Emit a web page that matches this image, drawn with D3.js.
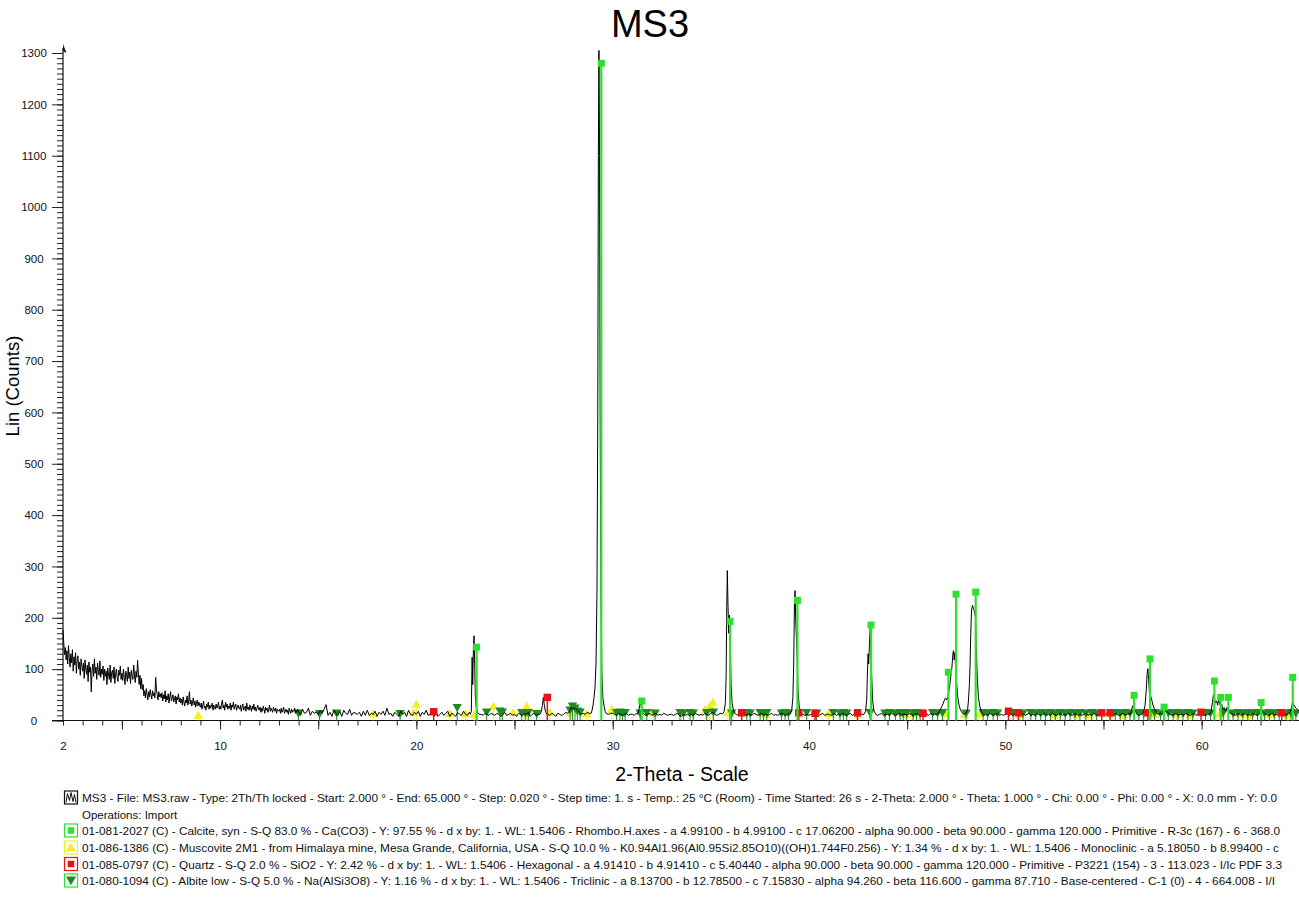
<!DOCTYPE html>
<html><head><meta charset="utf-8">
<script src="https://cdn.jsdelivr.net/npm/d3@7"></script>
<style>body{margin:0;background:#fff;} svg{display:block;font-family:"Liberation Sans",Arial,sans-serif;}</style>
</head><body>
<svg id="c" width="1299" height="919"></svg>
<script>
// ---- Scan (2-Theta, counts) ----
// low-angle part: 2.00 .. 13.96 every 0.04
const lowStart = 2.0, lowStep = 0.04;
const lowAngle = [
176,150,128,142,118,136,110,146,122,104,130,112,138,96,124,108,132,92,118,126,100,114,88,120,106,
96,112,82,118,100,90,108,76,114,94,104,56,98,110,86,120,92,104,80,112,96,88,116,84,100,
90,106,78,100,86,96,70,102,88,80,108,74,94,98,82,104,72,92,100,84,76,98,88,106,80,
92,78,100,84,70,96,88,76,104,82,94,72,98,86,80,108,90,74,96,84,117,92,70,88,62,
82,60,70,48,58,44,62,52,40,56,46,60,50,42,58,48,54,44,84,60,50,40,56,46,52,
44,54,38,50,42,58,36,48,40,52,34,46,56,38,44,50,36,42,48,32,46,40,52,36,44,
34,42,30,46,36,28,40,34,48,30,38,56,32,40,28,36,44,30,38,26,34,40,28,36,30,
26,34,22,30,38,24,28,20,32,26,36,22,30,24,28,34,20,30,26,22,32,24,28,36,22,
28,22,34,40,24,30,20,36,26,32,22,28,24,34,20,30,26,36,22,28,32,20,26,30,24,
22,30,18,26,32,20,24,28,18,34,22,26,20,30,24,18,28,22,32,20,26,18,24,30,22,
20,26,16,24,18,28,22,14,26,20,24,16,22,30,18,24,20,16,26,22,18,24,14,22,20,
18,22,14,24,16,20,26,14,18,22,16,20,12,24,18,14,22,16,20,18,24,14,20,16,22
];
// main part: 14.0 .. 65.0 every 0.1
const mainStart = 14.0, mainStep = 0.1;
const background = [
18,10,22,14,16,24,10,18,14,16,
12,20,14,22,31,10,16,8,20,14,
10,18,8,20,14,12,22,10,16,14,
12,16,8,18,10,20,10,14,12,18,
8,16,12,18,10,24,12,14,8,16,
12,8,18,12,16,8,20,12,10,16,
12,18,8,16,12,20,10,12,16,8,
18,8,12,16,10,14,18,8,14,12,
8,16,12,10,18,12,10,16,12,14,
14,12,16,12,10,14,12,10,14,12,
10,14,12,8,12,16,10,12,14,10,
12,8,14,12,10,14,12,16,8,12,
14,10,12,16,12,14,12,12,10,14,
12,8,14,12,10,12,16,14,18,26,
22,24,20,16,12,14,12,16,14,12,
14,12,14,12,12,12,12,13,12,14,
14,12,10,14,12,10,12,14,10,12,
12,10,14,14,14,14,12,10,12,14,
10,12,14,10,12,10,14,12,10,12,
12,10,12,14,10,8,12,10,12,10,
12,10,14,12,10,12,10,14,12,10,
14,16,12,10,12,14,12,12,12,12,
12,12,14,12,10,12,14,12,10,12,
12,10,14,12,10,12,14,10,12,10,
12,14,10,12,10,12,14,12,10,12,
14,12,12,12,12,12,12,12,10,12,
10,12,14,10,12,10,12,14,10,12,
12,10,12,14,10,12,10,14,12,10,
12,14,10,12,10,12,14,12,12,12,
12,12,12,12,12,10,12,14,10,12,
12,10,14,12,10,12,14,10,12,12,
10,14,12,10,12,14,10,12,14,12,
12,10,14,12,12,12,12,12,12,12,
12,12,12,12,12,12,12,12,12,12,
12,12,12,12,12,12,12,12,14,10,
12,10,14,12,10,12,14,10,12,10,
12,14,10,12,10,14,12,10,12,14,
10,12,14,10,12,10,14,12,10,12,
14,10,12,10,14,12,10,12,14,10,
12,10,14,12,10,12,14,10,12,10,
12,14,10,12,10,14,12,10,12,14,
10,12,14,10,12,10,14,12,10,12,
14,10,12,14,12,12,12,12,10,12,
12,12,12,12,12,12,12,12,12,14,
12,16,20,14,12,10,12,14,10,12,
12,10,14,12,10,12,14,10,12,10,
12,14,10,12,12,12,12,12,12,12,
12,12,12,12,12,14,12,10,12,14,
10,12,14,10,12,10,14,12,10,12,
16,18,14,12,10,12,14,10,12,10,
12,14,10,12,12,12,12,12,12,12,
17
];
// Finer points read around the diffraction peaks [2-Theta, counts]
const peakProfiles = [
 [[22.75,12],[22.80,18],[22.84,123],[22.87,70],[22.91,150],[22.94,165],[22.97,110],[23.00,50],[23.05,25],[23.12,16],[23.20,12]],
 [[26.30,12],[26.37,18],[26.42,30],[26.47,45],[26.51,32],[26.57,18],[26.65,12]],
 [[28.90,14],[28.95,20],[29.00,30],[29.05,45],[29.10,65],[29.15,110],[29.20,250],[29.24,600],[29.27,1100],[29.30,1305],[29.33,1100],[29.36,600],[29.40,250],[29.45,90],[29.50,45],[29.56,28],[29.62,18],[29.68,13]],
 [[31.25,12],[31.32,18],[31.38,30],[31.42,35],[31.46,26],[31.52,16],[31.60,12]],
 [[35.60,13],[35.68,18],[35.74,35],[35.78,90],[35.81,220],[35.84,292],[35.87,230],[35.91,170],[35.95,205],[35.99,150],[36.03,70],[36.08,35],[36.15,20],[36.25,13]],
 [[39.05,13],[39.12,20],[39.18,45],[39.22,110],[39.26,230],[39.29,253],[39.32,200],[39.36,160],[39.40,120],[39.44,60],[39.50,28],[39.58,16],[39.66,12]],
 [[42.80,12],[42.88,18],[42.94,40],[42.98,100],[43.01,130],[43.04,110],[43.08,150],[43.12,185],[43.15,170],[43.19,90],[43.24,40],[43.30,20],[43.40,12]],
 [[46.60,14],[46.70,22],[46.80,30],[46.88,38],[46.95,44],[47.02,40],[47.08,48],[47.15,62],[47.22,85],[47.28,104],[47.33,130],[47.36,136],[47.40,118],[47.43,132],[47.47,100],[47.52,72],[47.58,45],[47.64,30],[47.72,20],[47.80,15]],
 [[48.00,14],[48.08,22],[48.12,38],[48.17,70],[48.20,104],[48.24,170],[48.28,215],[48.33,224],[48.38,218],[48.43,212],[48.48,200],[48.52,140],[48.57,84],[48.63,45],[48.71,26],[48.80,15]],
 [[56.35,12],[56.42,18],[56.48,28],[56.52,30],[56.58,24],[56.66,15]],
 [[56.95,12],[57.05,18],[57.12,30],[57.18,60],[57.22,90],[57.26,101],[57.30,80],[57.34,55],[57.40,48],[57.46,40],[57.52,30],[57.60,22],[57.70,15]],
 [[60.40,12],[60.48,18],[60.55,35],[60.60,50],[60.64,45],[60.70,34],[60.76,38],[60.82,30],[60.86,42],[60.90,36],[60.96,28],[61.02,32],[61.08,22],[61.15,25],[61.22,18],[61.30,26],[61.36,20],[61.45,14]],
 [[64.45,14],[64.52,18],[64.58,26],[64.63,36],[64.68,32],[64.74,28],[64.80,24],[64.86,22],[64.92,20],[65.00,17]]
];
// ---- Stick patterns [2-Theta, intensity] ----
const calcite = [[23.07,143],[29.42,1280],[31.48,38],[35.98,193],[39.41,234],[43.16,186],[47.10,94],[47.49,246],[48.49,250],[56.56,49],[57.37,120],[58.09,26],[60.65,77],[60.97,45],[61.36,45],[63.03,35],[64.64,84]];
const muscovite = [[8.89,8],[17.80,12],[19.85,14],[20.00,30],[21.70,12],[22.50,12],[22.95,10],[23.92,26],[24.94,14],[25.62,26],[26.80,14],[27.83,14],[28.68,12],[29.95,20],[32.07,14],[34.72,20],[34.95,26],[35.10,34],[35.88,14],[37.80,10],[40.98,12],[42.50,10],[44.90,10],[45.30,12],[46.93,12],[47.90,10],[48.71,12],[50.75,10],[52.50,9],[53.64,10],[54.20,9],[55.33,12],[56.00,9],[57.60,10],[58.73,10],[59.40,9],[60.94,12],[61.96,12],[62.40,9],[63.49,10],[64.40,9]];
const quartz = [[20.88,17],[26.67,45],[36.57,15],[39.48,15],[40.31,14],[42.47,15],[45.81,14],[50.16,18],[50.67,15],[54.91,15],[55.34,15],[57.26,15],[59.97,16],[64.08,15]];
const albite = [[13.99,16],[15.07,15],[15.94,16],[19.17,15],[22.08,27],[23.58,18],[24.26,20],[24.38,18],[25.37,17],[25.55,16],[25.70,17],[26.13,15],[27.83,22],[27.95,30],[28.08,26],[28.20,20],[28.34,18],[30.20,17],[30.37,18],[30.50,16],[30.63,17],[31.40,16],[31.74,17],[32.16,16],[33.43,17],[33.60,16],[33.94,17],[34.10,16],[34.79,17],[35.13,18],[36.06,16],[36.83,17],[37.00,16],[37.51,17],[37.68,16],[37.85,17],[38.60,16],[38.78,17],[38.95,16],[39.88,17],[40.39,16],[41.24,17],[41.58,16],[41.75,17],[41.92,16],[43.11,17],[43.87,16],[44.10,17],[44.40,16],[44.64,17],[44.80,16],[44.98,17],[45.30,16],[45.48,17],[45.66,16],[46.30,17],[46.55,16],[46.80,17],[48.00,16],[48.87,17],[49.10,16],[49.38,17],[49.60,16],[50.40,17],[50.90,16],[51.30,17],[51.55,16],[51.80,17],[52.05,16],[52.30,17],[52.55,16],[52.80,17],[53.05,16],[53.30,17],[53.55,16],[53.80,17],[54.10,16],[54.40,17],[54.65,16],[55.60,17],[55.85,16],[56.10,17],[56.35,16],[56.80,17],[57.05,16],[57.60,17],[57.90,16],[58.30,17],[58.55,16],[58.80,17],[59.05,16],[59.30,17],[59.55,16],[60.20,17],[60.45,16],[61.10,17],[61.60,16],[61.85,17],[62.10,16],[62.35,17],[62.60,16],[62.85,17],[63.20,16],[63.45,17],[63.70,16],[63.95,17],[64.30,16],[64.55,17],[64.80,16]];
// ---- Axis ticks ----
const xTickLabels = [2,10,20,30,40,50,60];
const yTickLabels = [0,100,200,300,400,500,600,700,800,900,1000,1100,1200,1300];
// ---- Texts ----
const title = "MS3";
const xTitle = "2-Theta - Scale";
const yTitle = "Lin (Counts)";
const legendLines = [
 "MS3 - File: MS3.raw - Type: 2Th/Th locked - Start: 2.000 ° - End: 65.000 ° - Step: 0.020 ° - Step time: 1. s - Temp.: 25 °C (Room) - Time Started: 26 s - 2-Theta: 2.000 ° - Theta: 1.000 ° - Chi: 0.00 ° - Phi: 0.00 ° - X: 0.0 mm - Y: 0.0",
 "Operations: Import",
 "01-081-2027 (C) - Calcite, syn - S-Q 83.0 % - Ca(CO3) - Y: 97.55 % - d x by: 1. - WL: 1.5406 - Rhombo.H.axes - a 4.99100 - b 4.99100 - c 17.06200 - alpha 90.000 - beta 90.000 - gamma 120.000 - Primitive - R-3c (167) - 6 - 368.0",
 "01-086-1386 (C) - Muscovite 2M1 - from Himalaya mine, Mesa Grande, California, USA - S-Q 10.0 % - K0.94Al1.96(Al0.95Si2.85O10)((OH)1.744F0.256) - Y: 1.34 % - d x by: 1. - WL: 1.5406 - Monoclinic - a 5.18050 - b 8.99400 - c",
 "01-085-0797 (C) - Quartz - S-Q 2.0 % - SiO2 - Y: 2.42 % - d x by: 1. - WL: 1.5406 - Hexagonal - a 4.91410 - b 4.91410 - c 5.40440 - alpha 90.000 - beta 90.000 - gamma 120.000 - Primitive - P3221 (154) - 3 - 113.023 - I/Ic PDF 3.3",
 "01-080-1094 (C) - Albite low - S-Q 5.0 % - Na(AlSi3O8) - Y: 1.16 % - d x by: 1. - WL: 1.5406 - Triclinic - a 8.13700 - b 12.78500 - c 7.15830 - alpha 94.260 - beta 116.600 - gamma 87.710 - Base-centered - C-1 (0) - 4 - 664.008 - I/I"
];

// ================= drawing =================
const svg = d3.select("#c");
const C = {calcite:"#2fe02f", musc:"#f4ee22", quartz:"#e81212", albite:"#1f8a1f"};
const x = d3.scaleLinear().domain([2,65]).range([63,1299.8]);
const y = d3.scaleLinear().domain([0,1300]).range([720.5,53]);

// merge scan
const inPeak = t => peakProfiles.some(p=>t>=p[0][0] && t<=p[p.length-1][0]);
const pts = [];
lowAngle.forEach((c,i)=>{ const t = +(lowStart + i*lowStep).toFixed(2); if(!inPeak(t)) pts.push([t,c]); });
background.forEach((c,i)=>{ const t = +(mainStart + i*mainStep).toFixed(2); if(!inPeak(t)) pts.push([t,c]); });
peakProfiles.forEach(p=>p.forEach(q=>pts.push(q)));
pts.sort((a,b)=>a[0]-b[0]);

// titles
svg.append("text").attr("x",650).attr("y",37).attr("text-anchor","middle")
  .attr("font-size",38).text(title);
svg.append("text").attr("x",682).attr("y",781).attr("text-anchor","middle")
  .attr("font-size",19.5).text(xTitle);
svg.append("text").attr("transform","translate(18.5,386) rotate(-90)").attr("text-anchor","middle")
  .attr("font-size",18.5).text(yTitle);

// axes
const yMinor = d3.axisLeft(y).tickValues(d3.range(0,1301,10)).tickSize(6).tickFormat("");
const yMajor = d3.axisLeft(y).tickValues(yTickLabels).tickSize(11).tickPadding(0).tickFormat(d3.format("d"));
const gy1 = svg.append("g").attr("transform","translate(63,0)").call(yMinor);
const gy2 = svg.append("g").attr("transform","translate(63,0)").call(yMajor);
[gy1,gy2].forEach(g=>{g.select(".domain").remove(); g.selectAll("line").attr("stroke","#222");});
gy2.selectAll("text").attr("x",-29).attr("text-anchor","middle").attr("font-size",11.5)
  .attr("font-family","Liberation Sans, Arial, sans-serif").attr("fill","#111");

const xMinor = d3.axisBottom(x).tickValues(d3.range(2,66,1)).tickSize(5).tickFormat("");
const xMid = d3.axisBottom(x).tickValues(d3.range(5,66,5)).tickSize(9).tickFormat("");
const xMajor = d3.axisBottom(x).tickValues(xTickLabels).tickSize(0).tickPadding(21).tickFormat(d3.format("d"));
[xMinor,xMid,xMajor].forEach(a=>{
  const g = svg.append("g").attr("transform","translate(0,720.5)").call(a);
  g.select(".domain").remove(); g.selectAll("line").attr("stroke","#222");
  g.selectAll("text").attr("font-size",11.5).attr("font-family","Liberation Sans, Arial, sans-serif").attr("fill","#111");
});
svg.append("line").attr("x1",52).attr("x2",1299).attr("y1",720.5).attr("y2",720.5).attr("stroke","#111").attr("stroke-width",1.2);
svg.append("line").attr("x1",63).attr("x2",63).attr("y1",720.5).attr("y2",48).attr("stroke","#111").attr("stroke-width",1.2);
svg.append("path").attr("d","M63,44 L66.5,53 L63,51 Z").attr("fill","#111");

// sticks helper
function sticks(data, color, width){
  svg.append("g").selectAll("line").data(data).join("line")
    .attr("x1",d=>x(d[0])).attr("x2",d=>x(d[0])).attr("y1",y(0)).attr("y2",d=>y(d[1]))
    .attr("stroke",color).attr("stroke-width",width);
}
function markers(data, type, size, color, rot){
  svg.append("g").selectAll("path").data(data).join("path")
    .attr("d",d3.symbol().type(type).size(size))
    .attr("transform",d=>`translate(${x(d[0])},${y(d[1])}) rotate(${rot||0})`)
    .attr("fill",color);
}
sticks(muscovite, C.musc, 1);
markers(muscovite, d3.symbolTriangle, 38, C.musc);
sticks(albite, C.albite, 1);
markers(albite, d3.symbolTriangle, 38, C.albite, 180);

// scan line
svg.append("path").datum(pts)
  .attr("d", d3.line().x(d=>x(d[0])).y(d=>y(d[1])))
  .attr("fill","none").attr("stroke","#000").attr("stroke-width",1);

sticks(quartz, C.quartz, 1.5);
markers(quartz, d3.symbolSquare, 56, C.quartz);
sticks(calcite, C.calcite, 2.2);
markers(calcite, d3.symbolSquare, 49, C.calcite);

// legend
const ly = [802, 818.5, 835, 852, 868.5, 885];
const ends = [1277, null, 1280, 1279, 1282, 1275];
legendLines.forEach((t,i)=>{
  const tx = svg.append("text").attr("x",82).attr("y",ly[i]).attr("font-size",11.5).attr("fill","#111").text(t);
  if(ends[i]) tx.attr("textLength",ends[i]-82).attr("lengthAdjust","spacingAndGlyphs");
});
const icons = [
  {row:0, stroke:"#111"},
  {row:2, stroke:C.calcite, shape:"sq", fill:C.calcite},
  {row:3, stroke:C.musc, shape:"tri", fill:C.musc},
  {row:4, stroke:C.quartz, shape:"sq", fill:C.quartz},
  {row:5, stroke:C.calcite, shape:"itri", fill:C.albite}
];
icons.forEach(ic=>{
  const cy = ly[ic.row]-4.5;
  svg.append("rect").attr("x",64.5).attr("y",cy-6.5).attr("width",13).attr("height",13)
    .attr("fill","#fff").attr("stroke",ic.stroke).attr("stroke-width",1.2);
  if(!ic.shape){
    svg.append("path").attr("d",`M66,${cy+5} L67.5,${cy-4} L69.5,${cy+3} L71,${cy-5} L73,${cy+4} L74.5,${cy-3} L76,${cy+5}`)
      .attr("fill","none").attr("stroke","#111").attr("stroke-width",1);
  } else {
    const t = ic.shape==="sq"?d3.symbolSquare:d3.symbolTriangle;
    svg.append("path").attr("d",d3.symbol().type(t).size(ic.shape==="sq"?42:44))
      .attr("transform",`translate(71,${cy+(ic.shape==="tri"?1:ic.shape==="itri"?-1:0)}) rotate(${ic.shape==="itri"?180:0})`)
      .attr("fill",ic.fill);
  }
});
</script>
</body></html>
